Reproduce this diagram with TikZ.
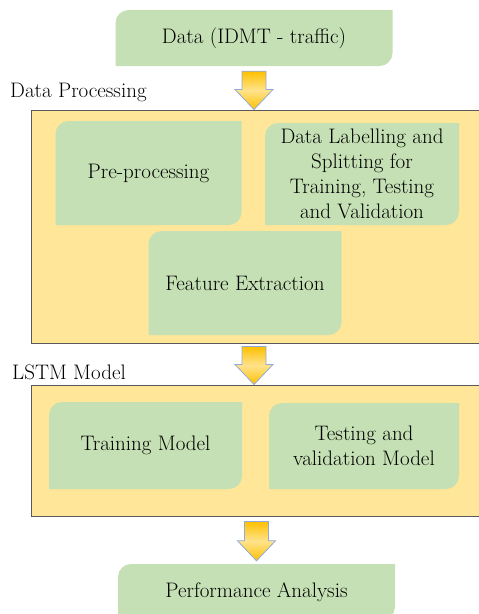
\documentclass[tikz,border=0pt]{standalone}
\usetikzlibrary{calc}

\definecolor{boxgreen}{HTML}{C5E0B4}
\definecolor{boxyellow}{HTML}{FFE699}
\definecolor{arrowgold}{HTML}{FFC000}
\definecolor{arrowlight}{HTML}{FFE38C}
\definecolor{arrowedge}{HTML}{8FAADC}
\definecolor{framegray}{HTML}{595959}

% block arrow from #1 (top of shaft) to #2 (tip)
\newcommand{\flowarrow}[2]{%
  \path[flowarr] ($(#1)+(-12,0)$) -- ($(#1)+(12,0)$) -- ($(#2)+(12,-20)$)
    -- ($(#2)+(19,-20)$) -- (#2) -- ($(#2)+(-19,-20)$) -- ($(#2)+(-12,-20)$) -- cycle;}

\tikzset{
  gbox/.style={inner sep=0pt, align=center, font=\fontsize{21}{25}\selectfont,
    path picture={\fill[boxgreen] (path picture bounding box.north east)
      -- ([xshift=13pt]path picture bounding box.north west) arc[start angle=90,end angle=180,radius=13pt]
      -- (path picture bounding box.south west)
      -- ([xshift=-13pt]path picture bounding box.south east) arc[start angle=-90,end angle=0,radius=13pt]
      -- cycle;}},
  stage/.style={draw=framegray, line width=1pt, fill=boxyellow, inner sep=0pt},
  tag/.style={anchor=west, inner sep=0pt, font=\fontsize{21}{25}\selectfont},
  flowarr/.style={draw=arrowedge, line width=0.8pt, top color=arrowgold, bottom color=arrowgold, middle color=arrowlight}
}

\begin{document}
\begin{tikzpicture}[x=1pt,y=-1pt]
\useasboundingbox (0,0) rectangle (479,614);

% input
\node[gbox, minimum width=277pt, minimum height=56pt] (data) at (254,38) {Data (IDMT - traffic)};

% data processing stage
\node[tag] (proclabel) at (10,92) {Data Processing};
\node[stage, minimum width=454pt, minimum height=233pt] (proc) at (258,226.5) {};
\node[gbox, minimum width=186pt, minimum height=104pt] (pre) at (148.5,173) {Pre-processing};
\node[gbox, minimum width=194pt, minimum height=102pt] (split) at (362,174) {Data Labelling and\\Splitting for\\Training, Testing\\and Validation};
\node[gbox, minimum width=193pt, minimum height=104pt] (feat) at (245,283) {Feature Extraction};

% lstm stage
\node[tag] (lstmlabel) at (12,372) {LSTM Model};
\node[stage, minimum width=454pt, minimum height=131pt] (lstm) at (258,450.5) {};
\node[gbox, minimum width=193pt, minimum height=87pt] (train) at (145.5,445.5) {Training Model};
\node[gbox, minimum width=190pt, minimum height=86pt] (test) at (364,446) {Testing and\\validation Model};

% output
\node[gbox, minimum width=277pt, minimum height=56pt] (perf) at (256.5,592) {Performance Analysis};

% arrows
\coordinate (a1top) at ($(data.south)+(0,5)$);
\coordinate (a1tip) at (data.south |- proc.north);
\coordinate (a2top) at ($(data.south |- proc.south)+(0,3)$);
\coordinate (a2tip) at (data.south |- lstm.north);
\coordinate (a3top) at ($(perf.north |- lstm.south)+(0,5)$);
\coordinate (a3tip) at ($(perf.north)+(0,-3)$);
\flowarrow{a1top}{a1tip}
\flowarrow{a2top}{a2tip}
\flowarrow{a3top}{a3tip}
\end{tikzpicture}
\end{document}
